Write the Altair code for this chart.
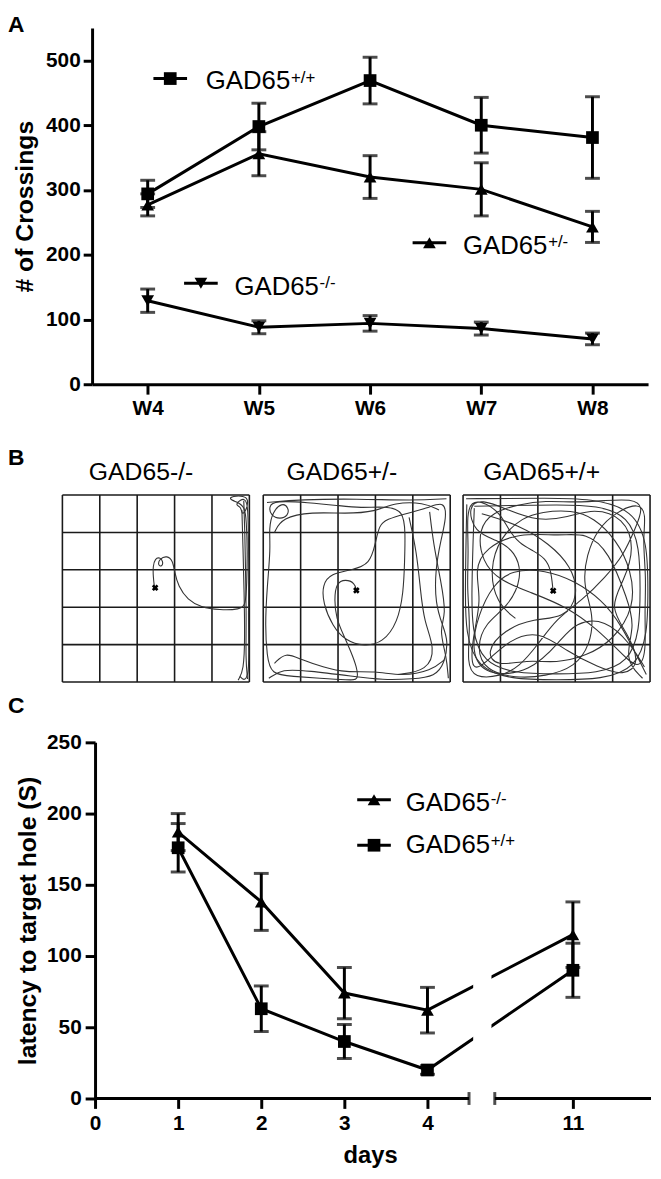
import altair as alt
import pandas as pd

FONT = "Liberation Sans"

# ---------------- data: panel A (open field crossings) ----------------
WEEKS = ["W4", "W5", "W6", "W7", "W8"]
A_GENOS = ["GAD65+/+", "GAD65+/-", "GAD65-/-"]
A_WT_MEAN = [294, 398, 469, 400, 381]
A_WT_SEM = [21, 36, 36, 43, 63]
A_HET_MEAN = [277, 356, 320, 301, 243]
A_HET_SEM = [17, 34, 33, 41, 24]
A_KO_MEAN = [129, 88, 94, 86, 70]
A_KO_SEM = [18, 10, 12, 10, 9]
A_Y_TICKS = [0, 100, 200, 300, 400, 500]
A_Y_MAX = 550

# ---------------- data: panel B (tracks, arena grid units, v from top) ----------------
B_TITLES = ["GAD65-/-", "GAD65+/-", "GAD65+/+"]
GRID = [0, 1, 2, 3, 4, 5]
B_START = [(2.48, 2.48), (2.49, 2.55), (2.41, 2.56)]
TRACK_KO = [
    [(2.46, 2.45), (2.43, 2.2), (2.42, 1.9), (2.48, 1.7), (2.6, 1.66), (2.7, 1.78), (2.66, 1.92),
     (2.55, 1.88), (2.6, 1.7), (2.8, 1.62), (2.95, 1.75), (3.0, 2.05), (3.1, 2.45), (3.35, 2.8),
     (3.7, 3.0), (4.2, 3.08), (4.75, 3.06), (4.9, 2.95), (4.93, 2.4), (4.95, 1.5), (4.92, 0.7),
     (4.88, 0.3), (4.65, 0.18), (4.45, 0.1), (4.55, 0.03), (4.85, 0.02), (4.98, 0.12), (4.92, 0.4),
     (4.8, 0.55), (4.78, 0.3), (4.62, 0.28), (4.75, 0.12), (4.96, 0.08), (4.97, 0.9), (4.99, 2.0),
     (4.97, 3.2), (4.99, 4.3), (4.97, 4.85), (4.85, 4.97), (4.75, 4.85)],
    [(4.85, 0.15), (4.88, 1.0), (4.9, 2.2), (4.92, 3.3), (4.9, 4.4), (4.95, 4.92)],
    [(4.8, 0.4), (4.83, 1.4), (4.86, 2.6), (4.88, 3.8), (4.85, 4.7), (4.7, 4.95)],
]
TRACK_HET = [
    [(2.49, 2.55), (2.45, 2.35), (2.2, 2.25), (1.95, 2.35), (1.9, 2.8), (1.95, 3.3), (2.15, 3.75),
     (2.35, 4.2), (2.5, 4.6), (2.55, 4.95), (2.3, 4.95), (1.5, 4.9), (0.8, 4.85), (0.2, 4.8),
     (0.1, 4.3), (0.05, 3.5), (0.1, 2.5), (0.2, 1.4), (0.15, 0.9), (0.25, 0.45), (0.5, 0.2),
     (0.68, 0.33), (0.67, 0.55), (0.45, 0.65), (0.2, 0.55), (0.15, 0.3), (0.3, 0.15), (1.2, 0.2),
     (2.0, 0.28), (2.6, 0.35), (3.3, 0.3), (3.75, 0.42), (3.8, 1.0), (3.78, 1.8), (3.75, 2.6),
     (3.6, 3.4), (3.2, 3.95), (2.7, 4.05), (2.2, 3.9), (1.85, 3.5), (1.6, 2.9), (1.58, 2.4),
     (1.8, 2.1), (2.4, 2.0), (2.85, 1.85), (3.0, 1.3), (3.1, 0.8), (3.3, 0.65), (3.8, 0.5),
     (4.4, 0.35), (4.85, 0.15), (4.9, 0.6), (4.75, 1.2), (4.6, 2.0), (4.6, 2.9), (4.8, 3.5),
     (4.95, 3.9), (4.85, 4.5), (4.6, 4.85), (4.0, 4.92), (3.2, 4.95), (2.4, 4.85), (1.2, 4.7),
     (0.5, 4.65), (0.15, 4.9)],
    [(4.45, 0.45), (4.55, 1.3), (4.75, 2.3), (4.9, 3.2), (4.7, 3.6), (4.9, 4.3), (4.95, 4.9)],
    [(0.1, 0.2), (1.0, 0.12), (2.5, 0.1), (4.0, 0.15), (4.9, 0.1)],
    [(3.9, 0.6), (4.1, 1.5), (4.2, 2.5), (4.3, 3.4), (4.6, 4.1), (4.4, 4.7), (3.6, 4.8)],
    [(0.3, 4.5), (0.6, 4.2), (1.0, 4.4), (1.6, 4.6), (2.2, 4.75), (3.0, 4.7), (3.7, 4.85),
     (4.5, 4.7), (4.85, 4.4)],
    [(0.3, 1.0), (0.5, 0.6), (1.3, 0.45), (2.2, 0.5), (3.0, 0.45), (3.5, 0.2), (4.3, 0.2),
     (4.7, 0.4)],
]
TRACK_WT = [
    [(2.4, 2.5), (2.35, 2.0), (2.2, 1.7), (1.9, 1.5), (1.5, 1.3), (1.2, 0.9), (1.0, 0.5), (0.6, 0.2),
     (0.2, 0.15), (0.1, 0.6), (0.15, 1.5), (0.1, 2.5), (0.2, 3.5), (0.1, 4.5), (0.3, 4.9), (1.0, 4.85),
     (1.5, 4.6), (2.0, 4.0), (2.5, 3.3), (3.2, 2.8), (3.8, 2.2), (4.3, 1.6), (4.6, 0.9), (4.85, 0.3),
     (4.5, 0.1), (3.8, 0.15), (3.0, 0.2), (2.2, 0.15), (1.5, 0.25), (0.8, 0.45), (0.4, 0.9),
     (0.5, 1.8), (1.0, 2.3), (1.8, 2.6), (2.8, 3.0), (3.6, 3.6), (4.2, 4.2), (4.7, 4.7), (4.9, 4.2),
     (4.85, 3.2), (4.9, 2.2), (4.8, 1.2), (4.9, 0.5), (4.7, 0.2), (4.1, 0.45), (3.6, 0.9), (3.3, 1.6),
     (3.2, 2.4), (3.5, 3.2), (3.4, 4.0), (3.0, 4.6), (2.2, 4.85), (1.4, 4.9), (0.6, 4.7), (0.35, 4.1),
     (0.6, 3.4), (1.2, 3.0), (1.6, 2.2), (1.4, 1.5), (0.9, 1.2), (0.3, 1.0), (0.12, 0.3), (0.5, 0.1),
     (1.2, 0.4), (2.0, 0.7), (2.8, 0.6), (3.5, 0.35), (4.3, 0.6), (4.6, 1.4), (4.3, 2.3), (3.9, 3.0),
     (4.4, 3.7), (4.75, 4.5), (4.3, 4.85), (3.6, 4.6), (2.8, 4.2), (2.0, 3.6), (1.2, 3.9), (0.7, 4.4),
     (0.2, 4.8), (0.25, 3.8), (0.5, 2.8), (0.3, 2.0), (0.6, 1.4), (1.5, 1.0), (2.6, 1.1), (3.3, 1.0),
     (3.9, 1.5), (4.4, 2.8), (4.6, 3.5), (4.3, 4.4), (4.8, 4.9)],
    [(0.08, 0.1), (2.0, 0.08), (4.92, 0.1), (4.95, 2.5), (4.93, 4.92), (2.5, 4.95), (0.08, 4.92),
     (0.05, 2.5), (0.1, 0.25)],
    [(0.3, 0.3), (2.5, 0.25), (4.7, 0.3), (4.75, 2.5), (4.7, 4.75), (2.5, 4.8), (0.25, 4.75),
     (0.22, 2.5), (0.3, 0.35)],
    [(0.5, 0.5), (1.5, 0.8), (2.3, 1.3), (2.9, 1.9), (3.1, 2.7), (2.7, 3.3), (1.9, 3.3), (1.1, 3.6),
     (0.6, 4.2), (0.9, 4.6), (1.7, 4.4), (2.5, 4.5), (3.3, 4.3), (4.0, 3.9), (4.6, 3.0), (4.5, 2.0),
     (4.1, 1.2), (3.5, 0.6), (2.9, 0.4), (2.1, 0.45), (1.6, 0.6), (1.0, 1.1), (0.7, 2.0), (0.9, 2.9),
     (1.4, 3.3)],
    [(4.9, 4.8), (4.2, 3.4), (3.7, 2.8), (3.0, 2.3), (2.2, 2.0), (1.3, 2.0), (0.8, 2.4), (0.4, 3.2),
     (0.2, 4.2), (0.6, 4.85), (1.8, 4.75), (2.6, 3.9), (3.0, 3.4), (3.8, 3.3), (4.5, 4.0), (4.85, 4.6)],
]

# ---------------- data: panel C (latency) ----------------
DAYS = [1, 2, 3, 4, 11]
C_GENOS = ["GAD65-/-", "GAD65+/+"]
C_KO_MEAN = [187, 138, 74, 62, 115]
C_KO_SEM = [13, 20, 18, 16, 23]
C_WT_MEAN = [176, 63, 40, 20, 90]
C_WT_SEM = [17, 16, 12, 3, 19]
C_X_TICKS = [0, 1, 2, 3, 4, 11]
C_Y_TICKS = [0, 50, 100, 150, 200, 250]
C_Y_MAX = 250

# ---------------- layout constants ----------------
W = 562
A_H = 360
B_H = 342
C_H = 360
SPACING = 10
MARK_SIZE = 165
BREAK_POS = 4.5          # end of first axis segment (days)
SEG2_POS = 4.81          # start of second axis segment (plot units)
SHIFT = 5.25             # day -> plot units after the break
SEG2_END = 6.69
GAP_LO, GAP_HI = 4.55, 4.77
PX_UNIT = 37.8
ARENA_X0 = [-0.794, 4.577, 9.921]
B_Y0 = -2.698


def axis_style(**kw):
    base = dict(domainColor="black", domainWidth=3, tickColor="black", tickWidth=3,
                tickSize=10, labelFont=FONT, labelFontSize=21, labelFontWeight="bold",
                labelColor="black", titleFont=FONT, titleFontSize=25, titleFontWeight="bold",
                titleColor="black", grid=False, labelPadding=3)
    base.update(kw)
    return alt.Axis(**base)


def legend_item(shape, xm, ym, label, sup, tx, ty):
    d = pd.DataFrame({"label": [label], "sup": [sup]})
    b = alt.Chart(d)
    line = b.mark_rule(color="black", strokeWidth=3).encode(
        x=alt.value(xm - 17), x2=alt.value(xm + 17), y=alt.value(ym))
    pt = b.mark_point(shape=shape, filled=True, color="black", opacity=1, size=MARK_SIZE).encode(
        x=alt.value(xm), y=alt.value(ym))
    t1 = b.mark_text(align="left", baseline="middle", font=FONT, fontSize=26, color="black").encode(
        x=alt.value(tx), y=alt.value(ty), text="label:N")
    t2 = b.mark_text(align="left", baseline="alphabetic", font=FONT, fontSize=17, color="black").encode(
        x=alt.value(tx + 86), y=alt.value(ty + 1), text="sup:N")
    return [line, pt, t1, t2]


def letter(ch, x, y):
    return alt.Chart(pd.DataFrame({"t": [ch]})).mark_text(
        align="left", baseline="top", font=FONT, fontSize=23, fontWeight="bold", color="black"
    ).encode(x=alt.value(x), y=alt.value(y), text="t:N")


# ================= Panel A =================
rowsA = []
for g, means, sems in zip(A_GENOS, [A_WT_MEAN, A_HET_MEAN, A_KO_MEAN], [A_WT_SEM, A_HET_SEM, A_KO_SEM]):
    for w, m, s in zip(WEEKS, means, sems):
        rowsA.append(dict(week=w, geno=g, mean=m, lo=m - s, hi=m + s))
dfA = pd.DataFrame(rowsA)

xA_scale = alt.Scale(type="point", padding=0.5, domain=WEEKS)
yA_scale = alt.Scale(domain=[0, A_Y_MAX], nice=False, zero=True)
xA_axis = axis_style(title=None, labelAngle=0, labelPadding=4)
yA_axis = axis_style(title="# of Crossings", values=A_Y_TICKS, tickSize=9, titleX=-68, titleY=A_H / 2,
                     titleAngle=270, titleBaseline="middle", titleAlign="center")


def xA():
    return alt.X("week:O", scale=xA_scale, axis=xA_axis)


def yA(field):
    return alt.Y(field, type="quantitative", scale=yA_scale, axis=yA_axis)


baseA = alt.Chart(dfA)
shapeA = alt.Shape("geno:N", scale=alt.Scale(domain=A_GENOS, range=["square", "triangle-up", "triangle-down"]),
                   legend=None)
lineA = baseA.mark_line(color="black", strokeWidth=3).encode(x=xA(), y=yA("mean"), detail="geno:N")
errA = baseA.mark_rule(color="black", strokeWidth=3).encode(x=xA(), y=yA("lo"), y2="hi:Q")
capLoA = baseA.mark_tick(color="black", thickness=3, size=15, orient="horizontal").encode(x=xA(), y=yA("lo"))
capHiA = baseA.mark_tick(color="black", thickness=3, size=15, orient="horizontal").encode(x=xA(), y=yA("hi"))
ptsA = baseA.mark_point(filled=True, color="black", opacity=1, size=MARK_SIZE).encode(
    x=xA(), y=yA("mean"), shape=shapeA)

legA = (legend_item("square", 79, 51, "GAD65", "+/+", 115, 54)
        + legend_item("triangle-up", 341, 217, "GAD65", "+/-", 375, 220)
        + legend_item("triangle-down", 110, 258, "GAD65", "-/-", 144, 262))

panelA = alt.layer(lineA, errA, capLoA, capHiA, ptsA, *legA, letter("A", -85, -14)).properties(
    width=W, height=A_H)

# ================= Panel B =================
grid_rows = []
for i, x0 in enumerate(ARENA_X0):
    for g in GRID:
        grid_rows.append(dict(x=x0 + g, x2=x0 + g, y=0, y2=5))
        grid_rows.append(dict(x=x0, x2=x0 + 5, y=g, y2=g))
dfGrid = pd.DataFrame(grid_rows)

track_rows = []
for i, (x0, track) in enumerate(zip(ARENA_X0, [TRACK_KO, TRACK_HET, TRACK_WT])):
    for j, seg in enumerate(track):
        for k, (u, v) in enumerate(seg):
            track_rows.append(dict(seg=f"{i}-{j}", k=k, x=x0 + u, y=v))
dfTrack = pd.DataFrame(track_rows)

dfStart = pd.DataFrame([dict(x=x0 + u, y=v) for x0, (u, v) in zip(ARENA_X0, B_START)])
dfTitle = pd.DataFrame([dict(label=t, x=x0 + 2.5, y=-0.61) for x0, t in zip(ARENA_X0, B_TITLES)])

xB_scale = alt.Scale(domain=[0, W / PX_UNIT], nice=False, zero=False)
yB_scale = alt.Scale(domain=[B_Y0, B_Y0 + B_H / PX_UNIT], nice=False, zero=False, reverse=True)


def xB(f="x"):
    return alt.X(f, type="quantitative", scale=xB_scale, axis=None)


def yB(f="y"):
    return alt.Y(f, type="quantitative", scale=yB_scale, axis=None)


gridB = alt.Chart(dfGrid).mark_rule(color="#1a1a1a", strokeWidth=1.6).encode(
    x=xB(), x2="x2:Q", y=yB(), y2="y2:Q")
trackB = alt.Chart(dfTrack).mark_line(color="#333333", strokeWidth=1.1, interpolate="basis").encode(
    x=xB(), y=yB(), detail="seg:N", order="k:Q")
startB = alt.Chart(dfStart).mark_point(shape="cross", angle=45, filled=True, color="black", size=45,
                                       opacity=1).encode(x=xB(), y=yB())
titleB = alt.Chart(dfTitle).mark_text(font=FONT, fontSize=25, color="black", baseline="middle", dx=-15).encode(
    x=xB(), y=yB(), text="label:N")

panelB = alt.layer(gridB, trackB, startB, titleB, letter("B", -85, 54)).properties(width=W, height=B_H)

# ================= Panel C =================
rowsC = []
for g, means, sems in zip(C_GENOS, [C_KO_MEAN, C_WT_MEAN], [C_KO_SEM, C_WT_SEM]):
    for d, m, s in zip(DAYS, means, sems):
        pos = d if d <= BREAK_POS else d - SHIFT
        rowsC.append(dict(day=d, pos=pos, geno=g, mean=m, lo=m - s, hi=m + s))
dfC = pd.DataFrame(rowsC)

tick_pos = [d if d <= BREAK_POS else d - SHIFT for d in C_X_TICKS]
xC_scale = alt.Scale(domain=[-0.036, -0.036 + W / 84.0], nice=False, zero=False)
yC_scale = alt.Scale(domain=[0, C_Y_MAX], nice=False, zero=True)
xC_axis = axis_style(title="days", values=tick_pos, domain=False, labelPadding=4,
                     labelExpr=f"datum.value > {BREAK_POS} ? format(datum.value + {SHIFT}, 'd') : format(datum.value, 'd')",
                     titleY=46, titleBaseline="top", titleFontSize=24)
yC_axis = axis_style(title="latency to target hole (S)", values=C_Y_TICKS, offset=-3, labelPadding=4,
                     titleX=-68, titleY=C_H / 2, titleAngle=270, titleBaseline="middle", titleAlign="center")


def xC(f="pos"):
    return alt.X(f, type="quantitative", scale=xC_scale, axis=xC_axis)


def yC(f):
    return alt.Y(f, type="quantitative", scale=yC_scale, axis=yC_axis)


baseC = alt.Chart(dfC)
shapeC = alt.Shape("geno:N", scale=alt.Scale(domain=C_GENOS, range=["triangle-up", "square"]), legend=None)
lineC = baseC.mark_line(color="black", strokeWidth=3).encode(x=xC(), y=yC("mean"), detail="geno:N",
                                                             order="pos:Q")
gapC = alt.Chart(pd.DataFrame(dict(x0=[GAP_LO], x1=[GAP_HI], y0=[5], y1=[C_Y_MAX]))).mark_rect(
    color="white", opacity=1).encode(x=xC("x0"), x2="x1:Q", y=yC("y0"), y2="y1:Q")
errC = baseC.mark_rule(color="black", strokeWidth=3).encode(x=xC(), y=yC("lo"), y2="hi:Q")
capLoC = baseC.mark_tick(color="black", thickness=3, size=15, orient="horizontal").encode(x=xC(), y=yC("lo"))
capHiC = baseC.mark_tick(color="black", thickness=3, size=15, orient="horizontal").encode(x=xC(), y=yC("hi"))
ptsC = baseC.mark_point(filled=True, color="black", opacity=1, size=MARK_SIZE).encode(
    x=xC(), y=yC("mean"), shape=shapeC)
dfAx = pd.DataFrame(dict(x0=[0, SEG2_POS], x1=[BREAK_POS, SEG2_END], y=[0, 0]))
axisSeg = alt.Chart(dfAx).mark_rule(color="black", strokeWidth=3).encode(x=xC("x0"), x2="x1:Q", y=yC("y"))
dfCap = pd.DataFrame(dict(x=[BREAK_POS, SEG2_POS], y=[0, 0]))
axisCap = alt.Chart(dfCap).mark_tick(color="black", thickness=3, size=13, orient="vertical").encode(
    x=xC("x"), y=yC("y"))

legC = (legend_item("triangle-up", 285, 58, "GAD65", "-/-", 317, 61)
        + legend_item("square", 285, 104, "GAD65", "+/+", 317, 104))

panelC = alt.layer(lineC, gapC, errC, capLoC, capHiC, ptsC, axisSeg, axisCap, *legC,
                   letter("C", -85, -48)).properties(width=W, height=C_H)

chart = alt.vconcat(panelA, panelB, panelC, spacing=SPACING, bounds="flush").resolve_scale(
    shape="independent").properties(padding=0).configure_view(stroke=None)

chart.save("out.html", embed_options={"renderer": "svg", "actions": False})
